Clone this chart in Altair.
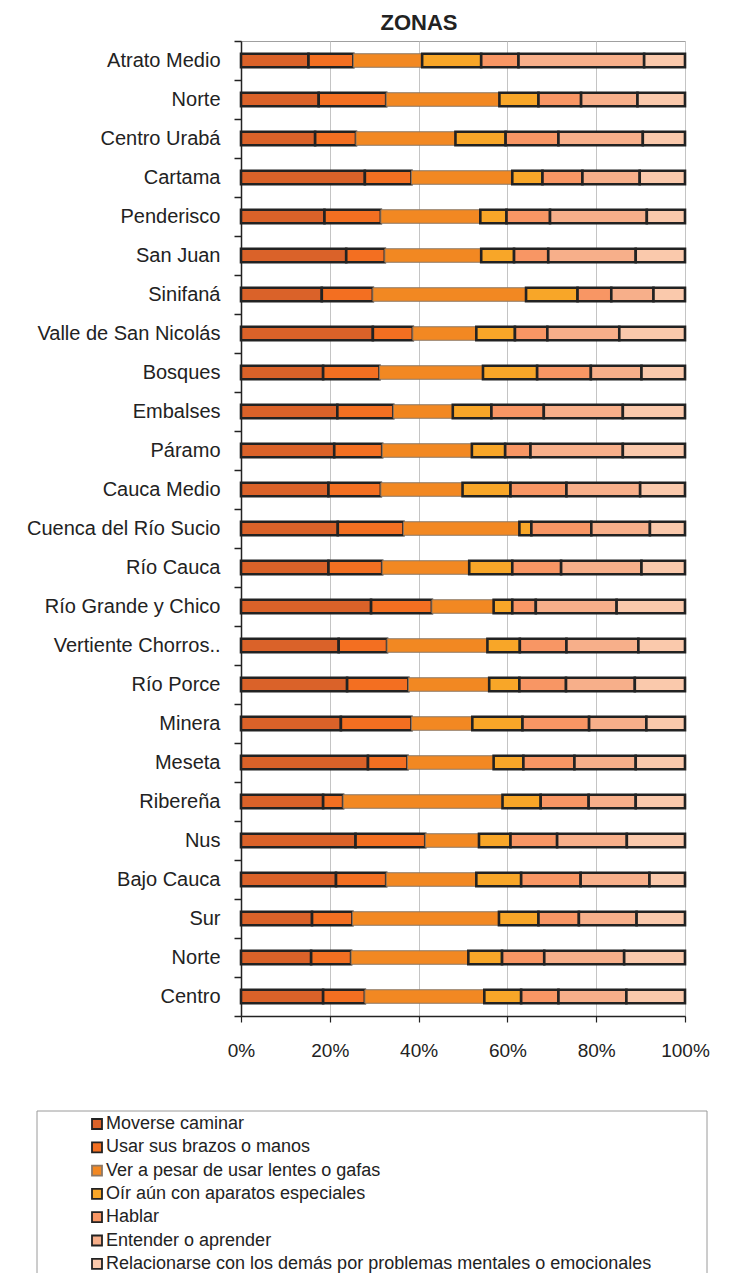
import altair as alt
import pandas as pd

zonas = [
    "Atrato Medio", "Norte", "Centro Urabá", "Cartama", "Penderisco",
    "San Juan\u00a0", "Sinifaná", "Valle de San Nicolás", "Bosques", "Embalses",
    "Páramo", "Cauca Medio", "Cuenca del Río Sucio", "Río Cauca", "Río Grande y Chico",
    "Vertiente Chorros..", "Río Porce\u00a0", "Minera", "Meseta", "Ribereña",
    "Nus", "Bajo Cauca", "Sur\u00a0", "Norte\u00a0", "Centro",
]

series = [
    "Moverse caminar",
    "Usar sus brazos o manos",
    "Ver a pesar de usar lentes o gafas",
    "Oír aún con aparatos especiales",
    "Hablar",
    "Entender o aprender",
    "Relacionarse con los demás por problemas mentales o emocionales",
]

moverse = [15.2, 17.5, 16.7, 27.9, 18.8, 23.7, 18.2, 29.7, 18.5, 21.7, 21.0, 19.7, 21.8,
           19.7, 29.3, 22.0, 23.9, 22.5, 28.6, 18.5, 25.8, 21.4, 16.0, 15.8, 18.5]
usar = [10.1, 15.2, 9.2, 10.5, 12.7, 8.7, 11.5, 9.0, 12.7, 12.6, 10.8, 11.8, 14.8,
        12.1, 13.7, 10.9, 13.8, 15.9, 8.9, 4.5, 15.7, 11.3, 9.1, 9.0, 9.4]
ver = [15.5, 25.5, 22.4, 22.7, 22.4, 21.7, 34.5, 14.3, 23.3, 13.4, 20.2, 18.4, 26.1,
       19.6, 13.9, 22.6, 18.2, 13.7, 19.4, 35.9, 12.1, 20.3, 33.0, 26.4, 26.9]
oir = [13.3, 8.8, 11.3, 6.8, 5.9, 7.4, 11.6, 8.7, 12.2, 8.7, 7.5, 10.8, 2.7,
       9.7, 4.2, 7.3, 6.8, 11.3, 6.7, 8.6, 7.1, 10.1, 8.9, 7.6, 8.3]
hablar = [8.4, 9.6, 11.9, 9.0, 9.8, 7.7, 7.6, 7.3, 12.1, 11.8, 5.7, 12.6, 13.5,
          11.0, 5.3, 10.5, 10.5, 15.0, 11.5, 10.8, 10.5, 13.4, 9.1, 9.5, 8.4]
entender = [28.3, 12.7, 19.0, 12.9, 21.8, 19.7, 9.5, 16.2, 11.4, 17.8, 20.8, 16.6, 13.2,
            18.1, 18.2, 16.2, 15.5, 12.9, 13.8, 10.6, 15.7, 15.5, 13.0, 18.0, 15.3]
relacionarse = [9.2, 10.7, 9.5, 10.2, 8.6, 11.1, 7.1, 14.8, 9.8, 14.0, 14.0, 10.1, 7.9,
                9.8, 15.4, 10.5, 11.3, 8.7, 11.1, 11.1, 13.1, 8.0, 10.9, 13.7, 13.2]

colores = ["#DA6229", "#F36F21", "#F28822", "#F8A628", "#F89664", "#F7AF8A", "#FAC9AC"]
bordes = ["#222222", "#222222", "#8C7866", "#222222", "#222222", "#222222", "#222222"]

valores = [moverse, usar, ver, oir, hablar, entender, relacionarse]
filas = []
for si, (nombre, vals) in enumerate(zip(series, valores)):
    for z, v in zip(zonas, vals):
        filas.append({"zona": z, "serie": nombre, "orden": si, "valor": v})
df = pd.DataFrame(filas)

FONT = "Liberation Sans"

leyenda = dict(
    title=None, orient="none", legendX=-153, legendY=1074,
    direction="vertical", symbolType="square", symbolSize=100,
    symbolStrokeWidth=1.8, labelFont=FONT, labelFontSize=18,
    labelColor="#222222", rowPadding=5.3, labelOffset=0,
    labelLimit=700, padding=0,
)

bars = alt.Chart(df).mark_bar(size=13.5).encode(
    y=alt.Y(
        "zona:N", sort=zonas, title=None,
        scale=alt.Scale(paddingInner=0, paddingOuter=0),
        axis=alt.Axis(
            labelFont=FONT, labelFontSize=20, labelColor="#222222",
            tickBand="extent", tickSize=7, tickColor="#222222", tickWidth=1.5,
            domainColor="#222222", domainWidth=1.5, labelPadding=14,
            grid=False, labelLimit=300,
        ),
    ),
    x=alt.X(
        "valor:Q", stack="normalize", title=None,
        scale=alt.Scale(domain=[0, 1]),
        axis=alt.Axis(
            format="%", values=[0, 0.2, 0.4, 0.6, 0.8, 1.0],
            labelFont=FONT, labelFontSize=19, labelColor="#222222",
            labelFlush=False,
            tickSize=6, tickColor="#222222", tickWidth=1.2,
            domainColor="#222222", domainWidth=1.5, labelPadding=19,
            grid=True, gridColor="#c4c4c4", gridWidth=1,
        ),
    ),
    fill=alt.Fill(
        "serie:N",
        scale=alt.Scale(domain=series, range=colores),
        legend=alt.Legend(**leyenda),
    ),
    stroke=alt.Stroke(
        "serie:N",
        scale=alt.Scale(domain=series, range=bordes),
        legend=alt.Legend(**leyenda),
    ),
    strokeWidth=alt.condition(alt.datum.serie == series[2], alt.value(1), alt.value(2.6)),
    order=alt.Order("orden:Q"),
)

caja = alt.Chart(alt.Data(values=[{"k": 1}])).mark_rect(
    fill="transparent", stroke="#9a9a9a", strokeWidth=1
).encode(
    x=alt.value(-204), x2=alt.value(466), y=alt.value(1070), y2=alt.value(1262)
)

chart = alt.layer(bars, caja).properties(
    width=444,
    height=975,
    autosize=alt.AutoSizeParams(type="none"),
    padding={"left": 233, "top": 33, "right": 41, "bottom": 260},
    title=alt.Title(
        "ZONAS", font=FONT, fontSize=22, fontWeight="bold", color="#222222",
        anchor="middle", dx=-44, offset=-4,
    ),
).configure_view(stroke="#a0a0a0")

chart.save("out.html", embed_options={"renderer": "svg", "actions": False})
